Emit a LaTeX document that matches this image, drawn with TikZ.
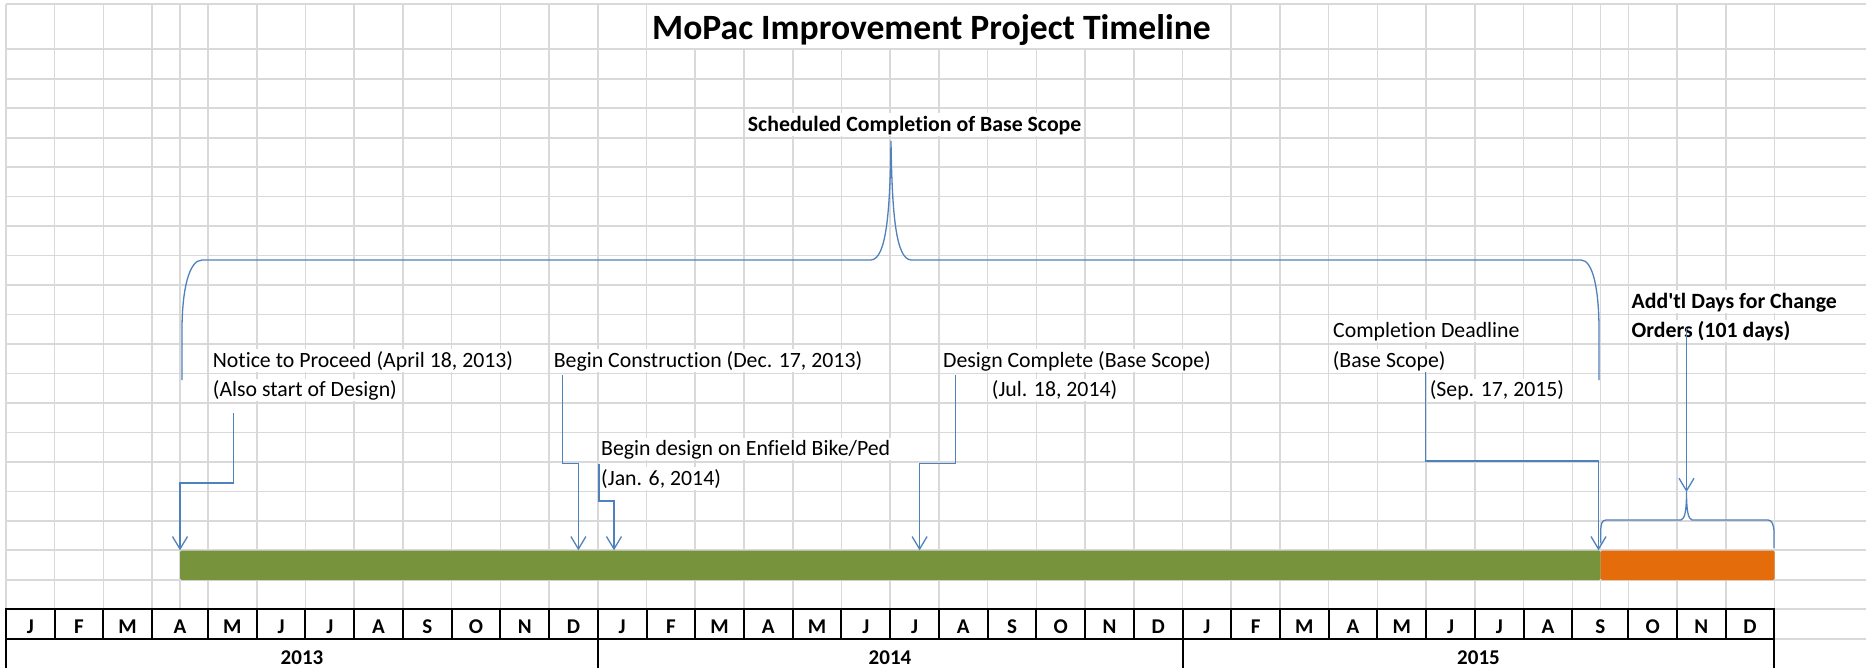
\documentclass[tikz,border=0pt]{standalone}
\usepackage{fontspec}
\setmainfont{Carlito}[Ligatures=NoCommon]
\newfontfamily\sheetfont{Carlito}[Ligatures=NoCommon]
\usetikzlibrary{arrows.meta}
\definecolor{gridgray}{HTML}{D9D9D9}
\definecolor{connblue}{HTML}{4F81BD}
\definecolor{basegreen}{HTML}{77933C}
\definecolor{extraorange}{HTML}{E46C0A}

\begin{document}
\begin{tikzpicture}[x=1pt,y=-1pt,
  gridline/.style={gridgray,line width=1.6pt},
  tableline/.style={black,line width=2pt},
  conn/.style={connblue,line width=1.3pt},
  arr/.style={conn,-{Straight Barb[length=12.5pt,width=15pt]}},
  lbl/.style={anchor=base west,inner xsep=2pt,inner ysep=0pt,fill=white,
    text height=18pt,text depth=4.5pt,font=\sheetfont\fontsize{21.8}{26}\selectfont},
  blbl/.style={lbl,font=\sheetfont\fontsize{21.8}{26}\selectfont\bfseries},
  monthlbl/.style={anchor=base,inner sep=0pt,font=\sheetfont\fontsize{21}{25}\selectfont\bfseries},
  bar/.style={inner sep=0pt,anchor=north west,minimum height=29.5pt,rounded corners=1.5pt}
]
\useasboundingbox (0,0) rectangle (1866,668);
\fill[white] (0,0) rectangle (1866,668);

% worksheet grid
\draw[gridline] (6,4) -- (1866,4);
\foreach \k in {0,...,18}
  \draw[gridline] (6,{49.3+29.47*\k}) -- (1866,{49.3+29.47*\k});
\foreach \k in {19,20}
  \draw[gridline] (1774.4,{49.3+29.47*\k}) -- (1866,{49.3+29.47*\k});
\foreach \x in {6,54.67,103.33,152,180,1600.3,1628.3,1677,1725.7,1774.4}
  \draw[gridline] (\x,4) -- (\x,609.3);
\foreach \j in {0,...,28}
  \draw[gridline] ({208+48.725*\j},4) -- ({208+48.725*\j},609.3);
% title cell spans several columns
\fill[white] (647.5,5) rectangle (1230.3,48.4);

% schedule bars
\node[bar,fill=basegreen,minimum width=1420.3pt] (basebar) at (180,550.3) {};
\node[bar,fill=extraorange,minimum width=174.1pt] (extrabar) at (1600.3,550.3) {};

% month / year table
\fill[white] (6,609.3) rectangle (1774.4,672);
\draw[tableline] (6,672) -- (6,609.3) -- (1774.4,609.3) -- (1774.4,672);
\draw[tableline] (6,638.7) -- (1774.4,638.7);
\foreach \x in {54.67,103.33,152,1628.3,1677,1725.7}
  \draw[tableline] (\x,609.3) -- (\x,638.7);
\foreach \j in {0,...,28}
  \draw[tableline] ({208+48.725*\j},609.3) -- ({208+48.725*\j},638.7);
\draw[tableline] (597.8,638.7) -- (597.8,672);
\draw[tableline] (1182.5,638.7) -- (1182.5,672);

\node[monthlbl] (mon0) at (30.33,633.3) {J};
\node[monthlbl] (mon1) at (79,633.3) {F};
\node[monthlbl] (mon2) at (127.67,633.3) {M};
\node[monthlbl] (mon3) at (180,633.3) {A};
\foreach \m [count=\k from 4] in {M,J,J,A,S,O,N,D,J,F,M,A,M,J,J,A,S,O,N,D,J,F,M,A,M,J,J,A}
  \node[monthlbl] (mon\k) at ({232.3625+48.725*(\k-4)},633.3) {\m};
\node[monthlbl] (mon32) at (1600.3,633.3) {S};
\node[monthlbl] (mon33) at (1652.65,633.3) {O};
\node[monthlbl] (mon34) at (1701.35,633.3) {N};
\node[monthlbl] (mon35) at (1750.05,633.3) {D};

\node[monthlbl] (y2013) at (302,664) {2013};
\node[monthlbl] (y2014) at (890,664) {2014};
\node[monthlbl] (y2015) at (1478.5,664) {2015};

% title and labels
\node[anchor=base west,inner sep=0pt,font=\sheetfont\fontsize{35.6}{40}\selectfont\bfseries] (title) at (652,40) {MoPac Improvement Project Timeline};
\node[blbl] (sched) at (745.7,131.5) {Scheduled Completion of Base Scope};

\node[lbl] (ntpA) at (210.7,367.3) {Notice to Proceed (April 18, 2013)};
\node[lbl] (ntpB) at (210.7,396.8) {(Also start of Design)};
\node[lbl] (bcA) at (551.6,367.3) {Begin Construction (Dec. 17, 2013)};
\node[lbl] (dcA) at (941,367.3) {Design Complete (Base Scope)};
\node[lbl] (dcB) at (989.7,396.8) {(Jul. 18, 2014)};
\node[lbl] (bdA) at (599,455.7) {Begin design on Enfield Bike/Ped};
\node[lbl] (bdB) at (599,485.2) {(Jan. 6, 2014)};
\node[lbl] (cdA) at (1331,337.8) {Completion Deadline};
\node[lbl] (cdB) at (1330.6,367.3) {(Base Scope)};
\node[lbl] (cdC) at (1427.6,396.8) {(Sep. 17, 2015)};
\node[blbl] (adA) at (1629.5,308.4) {Add'tl Days for Change};
\node[blbl] (adB) at (1629.5,337.8) {Orders (101 days)};

% connector end points
\coordinate (ntpTail) at (233.3,413.3);
\coordinate (ntpTip) at (180,550.3);
\coordinate (bcTail) at (562.3,375);
\coordinate (bcTip) at (578.4,550.3);
\coordinate (bdTail) at (599,464);
\coordinate (bdTip) at (614,550.3);
\coordinate (dcTail) at (955.3,375);
\coordinate (dcTip) at (919.6,550.3);
\coordinate (cdTail) at (1425.6,372.3);
\coordinate (cdTip) at (1598.5,550.3);
\coordinate (ordTail) at (1686.5,328);
\coordinate (sbTip) at (1686.5,492);
\coordinate (bbTip) at (891,141);

% braces
\draw[conn] (182,380) -- (182,330)
  .. controls (182,290) and (189,260) .. (202,260) -- (871,260)
  .. controls (886,259) and (890,215) .. (bbTip)
  .. controls (892,215) and (896,259) .. (911,260) -- (1581,260)
  .. controls (1593,260) and (1599,290) .. (1599,330) -- (1599,380);
\draw[conn] (1600.7,543) -- (1600.7,532)
  .. controls (1600.7,524) and (1602,520) .. (1606,520) -- (1681,520)
  .. controls (1685,519) and (1686.5,510) .. (sbTip)
  .. controls (1686.5,510) and (1688,519) .. (1692,520) -- (1768,520)
  .. controls (1772,520) and (1774,525) .. (1774,533) -- (1774,548);

% milestone connectors
\draw[arr] (ntpTail) -- ++(0,69.7) -| (ntpTip);
\draw[arr] (bcTail) -- ++(0,88.3) -| (bcTip);
\draw[arr] (bdTail) -- ++(0,37) -| (bdTip);
\draw[arr] (dcTail) -- ++(0,88.3) -| (dcTip);
\draw[arr] (cdTail) -- ++(0,88.7) -| (cdTip);
\draw[arr] (ordTail) -- (sbTip);
\end{tikzpicture}
\end{document}
